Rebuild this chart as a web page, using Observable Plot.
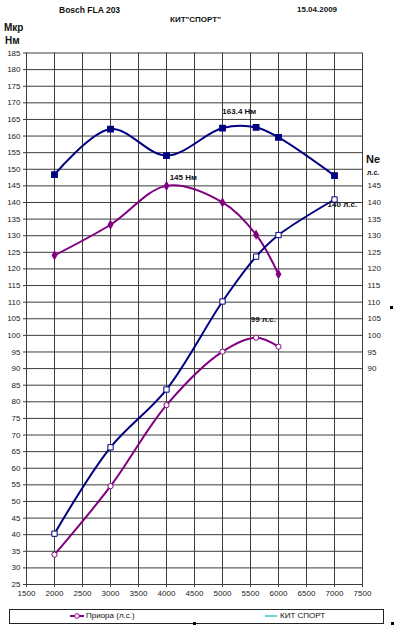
<!DOCTYPE html>
<html>
<head>
<meta charset="utf-8">
<script src="https://cdn.jsdelivr.net/npm/d3@7"></script>
<script src="https://cdn.jsdelivr.net/npm/@observablehq/plot@0.6"></script>
<style>
  html, body { margin: 0; padding: 0; background: #fff; }
  #wrap { position: relative; width: 394px; height: 628px; overflow: hidden; font-family: "Liberation Sans", Arial, sans-serif; color: #111; }
  .t { position: absolute; white-space: nowrap; line-height: 1; }
  .b { font-weight: bold; }
  .h { position: absolute; width: 3px; height: 3px; background: #000; }
</style>
</head>
<body>
<div id="wrap">
  <div class="t b" style="left:59px;top:6px;font-size:8.5px;">Bosch FLA 203</div>
  <div class="t b" style="left:297px;top:6px;font-size:8px;">15.04.2009</div>
  <div class="t b" style="left:170px;top:16px;font-size:8px;">КИТ"СПОРТ"</div>
  <div class="t b" style="left:4px;top:23px;font-size:10px;">Мкр</div>
  <div class="t b" style="left:5px;top:36px;font-size:10px;">Нм</div>
  <div class="t b" style="left:366px;top:154px;font-size:11px;">Ne</div>
  <div class="t b" style="left:367px;top:169px;font-size:7px;">л.с.</div>
  <div id="chart" style="position:absolute;left:0;top:0;"></div>
  <div style="position:absolute;left:9px;top:609px;width:373px;height:13px;border:1px solid #222;background:#fff;"></div>
  <svg style="position:absolute;left:0;top:0;" width="394" height="628">
    <line x1="70" x2="84" y1="616" y2="616" stroke="#800080" stroke-width="2"/>
    <circle cx="77" cy="616" r="2.3" fill="#fff" stroke="#800080" stroke-width="1"/>
    <line x1="265" x2="277" y1="616" y2="616" stroke="#33cccc" stroke-width="1.5"/>
  </svg>
  <div class="t" style="left:86px;top:612px;font-size:8px;">Приора (л.с.)</div>
  <div class="t" style="left:280px;top:612px;font-size:8px;">КИТ СПОРТ</div>
  <div class="h" style="left:390px;top:306px;"></div>
  <div class="h" style="left:193px;top:622px;"></div>
  <div class="h" style="left:391px;top:622px;"></div>
</div>
<script>
// ---- data ----
const rpmKit = [2000, 3000, 4000, 5000, 5600, 6000, 7000];
const torqueKit = [148.4, 162.1, 154.1, 162.4, 162.6, 159.6, 148.1];
const powerKit = [40.3, 66.3, 83.7, 110.2, 123.7, 130.2, 140.9];

const rpmPriora = [2000, 3000, 4000, 5000, 5600, 6000];
const torquePriora = [124.1, 133.3, 145, 140, 130.3, 118.4];
const powerPriora = [34, 54.6, 79, 95.1, 99.3, 96.6];

const xTicks = d3.range(1500, 7501, 500);
const yTicks = d3.range(25, 186, 5);
const rightTicks = d3.range(90, 146, 5);

const noteText = ["163.4 Нм", "145 Нм", "99 л.с.", "140 л.с."];
const noteX = [5300, 4300, 5730, 7140];
const noteY = [167.5, 147.5, 104.7, 139.3];

// ---- tables ----
const kitT = rpmKit.map((x, i) => ({x, y: torqueKit[i]}));
const kitP = rpmKit.map((x, i) => ({x, y: powerKit[i]}));
const priT = rpmPriora.map((x, i) => ({x, y: torquePriora[i]}));
const priP = rpmPriora.map((x, i) => ({x, y: powerPriora[i]}));
const notes = noteText.map((text, i) => ({text, x: noteX[i], y: noteY[i]}));

const navy = "#000080";
const purple = "#800080";
const grid = "#3c3c3c";

const chart = Plot.plot({
  width: 394,
  height: 628,
  marginTop: 52.5,
  marginBottom: 44,
  marginLeft: 26,
  marginRight: 32,
  style: {fontFamily: "'Liberation Sans', Arial, sans-serif", fontSize: "8px", background: "transparent", color: "#222"},
  x: {domain: [1500, 7500]},
  y: {domain: [25, 185]},
  marks: [
    Plot.ruleY(yTicks, {stroke: grid, strokeWidth: 1}),
    Plot.ruleX(xTicks, {stroke: grid, strokeWidth: 1}),
    Plot.axisY({ticks: yTicks, anchor: "left", tickSize: 3, tickPadding: 3, label: null, stroke: grid}),
    Plot.axisY({ticks: rightTicks, anchor: "right", tickSize: 0, tickPadding: 5, label: null}),
    Plot.axisX({ticks: xTicks, tickSize: 3, tickPadding: 3, label: null, tickFormat: "d", stroke: grid}),
    Plot.line(kitT, {x: "x", y: "y", stroke: navy, strokeWidth: 2, curve: "catmull-rom"}),
    Plot.line(priT, {x: "x", y: "y", stroke: purple, strokeWidth: 2, curve: "catmull-rom"}),
    Plot.line(kitP, {x: "x", y: "y", stroke: navy, strokeWidth: 2, curve: "catmull-rom"}),
    Plot.line(priP, {x: "x", y: "y", stroke: purple, strokeWidth: 2, curve: "catmull-rom"}),
    Plot.dot(kitT, {x: "x", y: "y", symbol: "square", r: 3, fill: navy, stroke: navy}),
    Plot.dot(priT, {x: "x", y: "y", symbol: "diamond", r: 2.2, fill: purple, stroke: purple}),
    Plot.dot(kitP, {x: "x", y: "y", symbol: "square", r: 3, fill: "#fff", stroke: navy, strokeWidth: 1}),
    Plot.dot(priP, {x: "x", y: "y", symbol: "circle", r: 2.6, fill: "#fff", stroke: purple, strokeWidth: 1}),
    Plot.text(notes, {x: "x", y: "y", text: "text", fontWeight: "bold", fontSize: 8, fill: "#111"})
  ]
});
document.getElementById("chart").appendChild(chart);
</script>
</body>
</html>
